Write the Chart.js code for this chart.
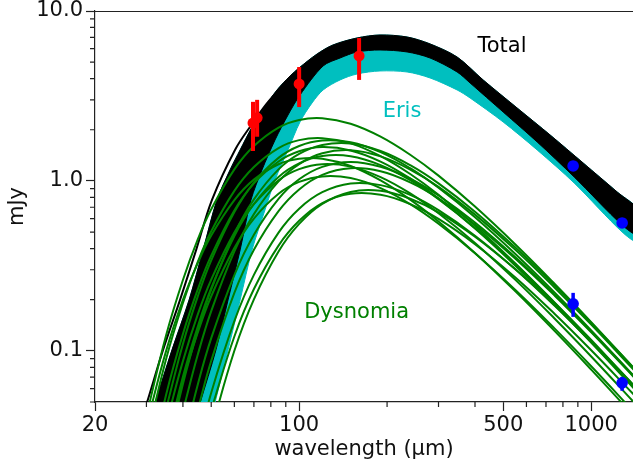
<!DOCTYPE html>
<html><head><meta charset="utf-8">
<script src="https://cdn.jsdelivr.net/npm/chart.js@4.4.1/dist/chart.umd.min.js"></script>
<style>html,body{margin:0;padding:0;background:#fff;overflow:hidden}</style>
</head><body>
<canvas id="c" width="633" height="465"></canvas>
<script>
// ---------------- data ----------------
// wavelength grid (micron) for the Dysnomia model draws
const lam = [30,35,40,45,50,60,70,85,100,120,150,190,240,300,400,550,750,1000,1400];

const dys01 = [0.0414,0.1228,0.2613,0.4541,0.6808,1.169,1.604,2.061,2.285,2.338,2.170,1.822,1.426,1.074,0.7060,0.4225,0.2474,0.1475,0.0790];
const dys02 = [0.0296,0.0890,0.1913,0.3352,0.5053,0.8733,1.207,1.561,1.738,1.785,1.664,1.399,1.098,0.8284,0.5452,0.3266,0.1915,0.1140,0.0612];
const dys03 = [null,0.0453,0.1098,0.2098,0.3411,0.6553,0.9772,1.367,1.606,1.730,1.691,1.477,1.188,0.9109,0.6118,0.3715,0.2200,0.1320,0.0711];
const dys04 = [null,0.0238,0.0639,0.1322,0.2300,0.4865,0.7783,1.170,1.443,1.628,1.660,1.499,1.237,0.9667,0.6588,0.4052,0.2421,0.1461,0.0790];
const dys05 = [0.0167,0.0548,0.1257,0.2306,0.3631,0.6706,0.9667,1.302,1.495,1.582,1.512,1.300,1.034,0.7879,0.5241,0.3166,0.1867,0.1117,0.0600];
const dys06 = [null,null,0.0442,0.0954,0.1714,0.3848,0.6378,0.9933,1.257,1.455,1.516,1.395,1.167,0.9232,0.6335,0.3928,0.2353,0.1426,0.0772];
const dys07 = [null,0.0277,0.0703,0.1395,0.2337,0.4741,0.7313,1.056,1.269,1.401,1.397,1.239,1.010,0.7814,0.5291,0.3236,0.1923,0.1158,0.0622];
const dys08 = [0.0364,0.0993,0.1995,0.3293,0.4774,0.7712,1.018,1.254,1.351,1.351,1.224,1.007,0.7762,0.5776,0.3771,0.2239,0.1306,0.0775,0.0414];
const dys09 = [null,null,0.0281,0.0636,0.1188,0.2792,0.4818,0.7837,1.022,1.210,1.293,1.212,1.030,0.8208,0.5690,0.3552,0.2141,0.1300,0.0706];
const dys10 = [null,0.0368,0.0870,0.1644,0.2626,0.4964,0.7303,1.008,1.173,1.254,1.214,1.053,0.8443,0.6447,0.4318,0.2616,0.1546,0.0927,0.0498];
const dys11 = [null,null,null,0.0453,0.0874,0.2191,0.3934,0.6642,0.8913,1.086,1.188,1.139,0.981,0.7900,0.5546,0.3485,0.2112,0.1285,0.0700];
const dys12 = [null,0.0278,0.0674,0.1288,0.2095,0.4025,0.6001,0.8397,0.9865,1.063,1.039,0.9071,0.7293,0.5592,0.3755,0.2282,0.1351,0.0811,0.0437];
const dys13 = [null,null,null,0.0281,0.0567,0.1495,0.2800,0.4964,0.6862,0.8580,0.9654,0.9447,0.8273,0.6732,0.4761,0.3020,0.1839,0.1123,0.0614];
const dys14 = [null,null,null,null,0.0343,0.1001,0.2009,0.3843,0.5585,0.7322,0.8614,0.8745,0.7857,0.6535,0.4696,0.3020,0.1857,0.1140,0.0627];
const dys15 = [null,null,null,null,0.0449,0.1215,0.2312,0.4164,0.5823,0.7402,0.8397,0.8285,0.7303,0.5977,0.4244,0.2703,0.1648,0.1008,0.0552];
const dysnomiaDraws = [dys01,dys02,dys03,dys04,dys05,dys06,dys07,dys08,dys09,dys10,dys11,dys12,dys13,dys14,dys15];

// envelope of the Total (black) model draws
const totalUpperLam = [29.9,32.1,36.7,42.0,46.9,52.3,58.0,62.8,69.0,75.2,84.0,93.1,99.9,115.2,130.6,157.9,189.2,234.2,280.7,347.4,426.5,557.5,723,938,1227,1471];
const totalUpperVal = [0.0343,0.0494,0.1014,0.1995,0.3928,0.773,1.161,1.522,2.078,2.616,3.43,4.147,4.62,5.585,6.31,6.94,7.225,7.03,6.40,5.36,3.93,2.688,1.865,1.276,0.861,0.657];
const totalLowerLam = [43.0,45.8,51.9,57.1,62.8,68.4,74.6,82.7,91.6,100.7,120.8,138.1,157.9,189.2,234.2,280.7,347.4,384.8,499.2,652.8,873.8,1286,1471];
const totalLowerVal = [0.0343,0.0494,0.1014,0.1995,0.3928,0.773,1.161,1.743,2.444,3.205,4.748,5.29,5.74,5.896,5.74,5.29,4.377,3.77,2.546,1.696,1.056,0.5434,0.4747];
// warmest single Total draw, separated on the left
const totalEdgeLam = [28.1,30.1,34.2,39.1,44.4,50.3,60.3,69.0,78.3,93.1,109.0];
const totalEdgeVal = [0.0343,0.0494,0.1014,0.1995,0.3928,0.773,1.522,2.164,2.915,4.036,5.01];
// lower envelope of the Eris (cyan) model draws
const erisLowerLam = [48.8,51.5,57.1,62.8,69.0,76.4,82.7,91.6,100.7,110.7,120.8,138.1,157.9,189.2,234.2,280.7,347.4,384.8,499.2,652.8,873.8,1286,1471];
const erisLowerVal = [0.0343,0.0494,0.1014,0.1995,0.3928,0.675,1.014,1.522,2.224,2.877,3.43,3.93,4.26,4.437,4.377,4.036,3.43,3.077,2.224,1.522,0.973,0.4944,0.4317];

// photometry
const pacsLam = [69.5,71.8,100,160.4];
const pacsVal = [2.19,2.35,3.72,5.44];
const pacsLo  = [1.50,1.82,2.72,3.93];
const pacsHi  = [2.92,3.00,4.68,6.94];
const erisMmLam = [867,1276];
const erisMmVal = [1.225,0.566];
const dysMmLam = [867,1276];
const dysMmVal = [0.189,0.0648];
const dysMmLo  = [0.1585,0.0582];
const dysMmHi  = [0.2194,0.0703];

// axes
const xTickLabels = [20,100,500,1000];
const yTickLabels = [0.1,1,10];
const yTickText = {0.1:'0.1',1:'1.0',10:'10.0'};

// ---------------- build datasets ----------------
const FONT = 'DejaVu Sans';
const BLACK = '#000000', CYAN = '#00BFBF', GREEN = '#008000', RED = '#FF0000', BLUE = '#0000FF';
const pts = (xs, ys) => xs.map((x,i)=>({x, y: ys[i]})).filter(p => p.y !== null);
const polygon = (ux, uy, lx, ly) => pts(ux, uy).concat(pts(lx, ly).reverse());

const datasets = [];
// markers (top)
datasets.push({data: pts(pacsLam, pacsVal), pointRadius: 5.5, pointBackgroundColor: RED, pointBorderWidth: 0, showLine: false, order: 0});
datasets.push({data: pts(erisMmLam, erisMmVal), pointRadius: 5.8, pointBackgroundColor: BLUE, pointBorderWidth: 0, showLine: false, order: 0});
datasets.push({data: pts(dysMmLam, dysMmVal), pointRadius: 5.8, pointBackgroundColor: BLUE, pointBorderWidth: 0, showLine: false, order: 0});
// error bars
pacsLam.forEach((l,i) => datasets.push({data: [{x:l,y:pacsLo[i]},{x:l,y:pacsHi[i]}], showLine: true, borderColor: RED, borderWidth: 4, pointRadius: 0, tension: 0, order: 1, borderCapStyle: 'butt'}));
dysMmLam.forEach((l,i) => datasets.push({data: [{x:l,y:dysMmLo[i]},{x:l,y:dysMmHi[i]}], showLine: true, borderColor: BLUE, borderWidth: 3.5, pointRadius: 0, tension: 0, order: 1, borderCapStyle: 'butt'}));
// Dysnomia draws
dysnomiaDraws.forEach(d => datasets.push({data: pts(lam, d), showLine: true, borderColor: GREEN, borderWidth: 2, pointRadius: 0, tension: 0.4, order: 2}));
// warm Total draw
datasets.push({data: pts(totalEdgeLam, totalEdgeVal), showLine: true, borderColor: BLACK, borderWidth: 2, pointRadius: 0, tension: 0.35, order: 3});
// Total band
datasets.push({data: polygon(totalUpperLam, totalUpperVal, totalLowerLam, totalLowerVal), showLine: true, borderColor: BLACK, backgroundColor: BLACK, borderWidth: 1, pointRadius: 0, tension: 0.3, fill: 'shape', order: 4});
// Eris band
datasets.push({data: polygon(totalUpperLam, totalUpperVal, erisLowerLam, erisLowerVal), showLine: true, borderColor: CYAN, backgroundColor: CYAN, borderWidth: 1, pointRadius: 0, tension: 0.3, fill: 'shape', order: 5});

// ---------------- helpers for axes ----------------
function logTicks(decades, lo, hi, majors) {
  const out = [];
  decades.forEach(d => { for (let m = 1; m <= 9; m++) { const v = +(m*d).toPrecision(6); if (v >= lo - 1e-9 && v <= hi + 1e-9) out.push({value: v, major: majors.includes(v)}); } });
  return out;
}

const extras = {
  id: 'extras',
  afterDraw(chart) {
    const {ctx, chartArea: a, scales: {x, y}} = chart;
    ctx.save();
    ctx.strokeStyle = '#222'; ctx.lineWidth = 1.2;
    ctx.beginPath();
    ctx.moveTo(a.left, a.top + 0.5); ctx.lineTo(a.right, a.top + 0.5);
    x.ticks.forEach(t => { if (!t.major) { const px = x.getPixelForValue(t.value); ctx.moveTo(px, a.bottom); ctx.lineTo(px, a.bottom + 5); } });
    y.ticks.forEach(t => { if (!t.major) { const py = y.getPixelForValue(t.value); ctx.moveTo(a.left, py); ctx.lineTo(a.left - 5, py); } });
    ctx.stroke();
    ctx.restore();
  },
  afterDatasetsDraw(chart, args, opts) {
    const {ctx, scales: {x, y}} = chart;
    ctx.save();
    ctx.font = '21px "' + FONT + '"';
    ctx.textAlign = 'center'; ctx.textBaseline = 'middle';
    opts.labels.forEach(l => { ctx.fillStyle = l.color; ctx.fillText(l.text, x.getPixelForValue(l.x), y.getPixelForValue(l.y)); });
    ctx.restore();
  }
};

const tickFont = {family: FONT, size: 21};
new Chart(document.getElementById('c'), {
  type: 'scatter',
  data: {datasets},
  plugins: [extras],
  options: {
    responsive: false, animation: false, devicePixelRatio: 1,
    layout: {autoPadding: false, padding: {top: 11, left: 0, right: 0, bottom: 0}},
    elements: {line: {capBezierPoints: false}},
    plugins: {
      legend: {display: false}, tooltip: {enabled: false},
      extras: {labels: [
        {text: 'Total', x: 495, y: 6.18, color: BLACK},
        {text: 'Eris', x: 225, y: 2.56, color: CYAN},
        {text: 'Dysnomia', x: 157.3, y: 0.167, color: GREEN}
      ]}
    },
    scales: {
      x: {
        type: 'logarithmic', position: 'bottom', min: 20, max: 1390,
        afterBuildTicks: s => { s.ticks = logTicks([10,100,1000], 20, 1390, xTickLabels); },
        afterFit: s => { s.height = 63; s.paddingLeft = 0; s.paddingRight = 0; s.paddingTop = 0; s.paddingBottom = 0; },
        grid: {display: true, drawOnChartArea: false, drawTicks: true, tickLength: 9, tickWidth: 1.2,
               tickColor: c => (c.tick && c.tick.major) ? '#222' : 'rgba(0,0,0,0)'},
        border: {display: true, color: '#222', width: 1.2},
        ticks: {autoSkip: false, maxRotation: 0, minRotation: 0, padding: 2, color: '#111', font: tickFont,
                callback: v => xTickLabels.includes(v) ? String(v) : ''},
        title: {display: true, text: 'wavelength (μm)', color: '#111', font: tickFont, padding: {top: 0, bottom: 3}}
      },
      y: {
        type: 'logarithmic', position: 'left', min: 0.05, max: 10,
        afterBuildTicks: s => { s.ticks = logTicks([0.01,0.1,1,10], 0.05, 10, yTickLabels); },
        afterFit: s => { s.width = 95; s.paddingLeft = 0; s.paddingRight = 0; s.paddingTop = 0; s.paddingBottom = 0; },
        grid: {display: true, drawOnChartArea: false, drawTicks: true, tickLength: 9, tickWidth: 1.2,
               tickColor: c => (c.tick && c.tick.major) ? '#222' : 'rgba(0,0,0,0)'},
        border: {display: true, color: '#222', width: 1.2},
        ticks: {autoSkip: false, padding: 3, color: '#111', font: tickFont,
                callback: v => yTickLabels.includes(v) ? yTickText[v] : ''},
        title: {display: true, text: 'mJy', color: '#111', font: tickFont, padding: {top: 5, bottom: 0}}
      }
    }
  }
});
</script>
</body></html>
